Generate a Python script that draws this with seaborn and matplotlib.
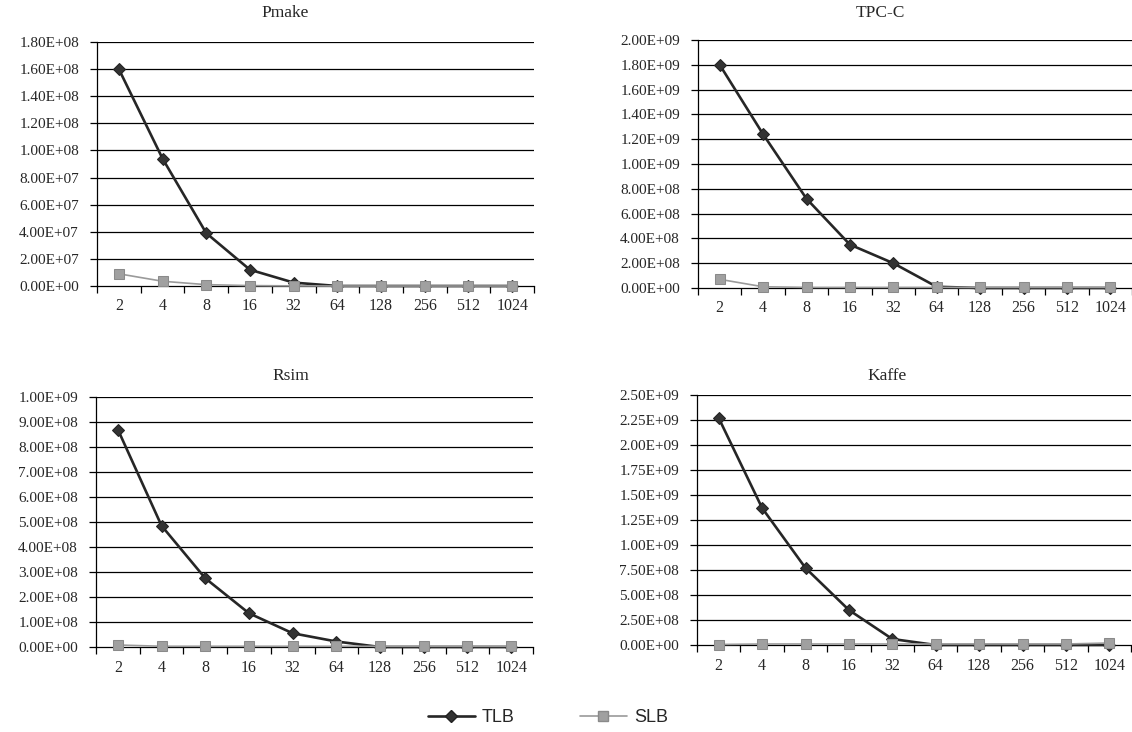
import numpy as np
import pandas as pd
import matplotlib
matplotlib.use("Agg")
import matplotlib.pyplot as plt
import seaborn as sns
from matplotlib.lines import Line2D

# ---------------- data ----------------
cache_sizes = ["2", "4", "8", "16", "32", "64", "128", "256", "512", "1024"]

pmake_tlb = [1.60e8, 9.4e7, 3.9e7, 1.2e7, 2.5e6, 0, 0, 0, 0, 0]
pmake_slb = [9.0e6, 3.5e6, 1.0e6, 3.0e5, 1.0e5, 0, 0, 0, 0, 0]

tpcc_tlb = [1.80e9, 1.24e9, 7.2e8, 3.5e8, 2.0e8, 1.0e7, 0, 0, 0, 0]
tpcc_slb = [7.0e7, 1.0e7, 5.0e6, 5.0e6, 5.0e6, 5.0e6, 5.0e6, 5.0e6, 5.0e6, 5.0e6]

rsim_tlb = [8.7e8, 4.85e8, 2.75e8, 1.35e8, 5.5e7, 2.2e7, 0, 0, 0, 0]
rsim_slb = [8.0e6, 3.0e6, 3.0e6, 3.0e6, 3.0e6, 3.0e6, 3.0e6, 3.0e6, 3.0e6, 3.0e6]

kaffe_tlb = [2.27e9, 1.37e9, 7.7e8, 3.5e8, 6.0e7, 0, 0, 0, 0, 0]
kaffe_slb = [5.0e6, 1.0e7, 1.0e7, 1.0e7, 1.0e7, 1.0e7, 1.0e7, 1.0e7, 1.0e7, 2.0e7]

titles = ["Pmake", "TPC-C", "Rsim", "Kaffe"]
y_max = [1.8e8, 2.0e9, 1.0e9, 2.5e9]
y_step = [2.0e7, 2.0e8, 1.0e8, 2.5e8]
series_names = ["TLB", "SLB"]

# ---------------- style ----------------
sns.set_theme(style="white")
plt.rcParams["font.family"] = ["Liberation Serif", "DejaVu Serif"]

TLB_COLOR = "#262626"
SLB_COLOR = "#9a9a9a"

fig = plt.figure(figsize=(11.32, 7.32), dpi=100)

W = 437 / 1132
WR = 434 / 1132
positions = [
    (97 / 1132, 1 - 286 / 732, W, (286 - 42) / 732),
    (698 / 1132, 1 - 288 / 732, WR, (288 - 40) / 732),
    (96 / 1132, 1 - 647 / 732, W, (647 - 397) / 732),
    (697 / 1132, 1 - 645 / 732, WR, (645 - 395) / 732),
]
title_pos = [(285, 13), (880, 13), (291, 376), (887, 376)]

data_sets = [
    (pmake_tlb, pmake_slb),
    (tpcc_tlb, tpcc_slb),
    (rsim_tlb, rsim_slb),
    (kaffe_tlb, kaffe_slb),
]

x_idx = np.arange(len(cache_sizes))

TLB_MS = 6
SLB_MS = 7.5

for i, (tlb, slb) in enumerate(data_sets):
    ax = fig.add_axes(positions[i])
    df = pd.DataFrame({"x": x_idx, "TLB": tlb, "SLB": slb})

    # grid lines
    ticks = np.arange(0, y_max[i] + y_step[i] / 2, y_step[i])
    for t in ticks[1:]:
        ax.axhline(t, color="black", lw=0.9, zorder=1)

    sns.lineplot(data=df, x="x", y="TLB", ax=ax, color=TLB_COLOR, lw=1.9,
                 marker="D", markersize=TLB_MS, markerfacecolor="#333333",
                 markeredgecolor="#222222", zorder=3, clip_on=False)
    sns.lineplot(data=df, x="x", y="SLB", ax=ax, color=SLB_COLOR, lw=1.2,
                 marker="s", markersize=SLB_MS, markerfacecolor="#a0a0a0",
                 markeredgecolor="#8a8a8a", zorder=4, clip_on=False)

    ax.set_xlim(-0.5, len(cache_sizes) - 0.5)
    ax.set_ylim(0, y_max[i])
    ax.set_yticks(ticks)
    ax.set_yticklabels([f"{v:.2E}" for v in ticks], fontsize=11)
    ax.set_xticks(x_idx)
    ax.set_xticklabels(cache_sizes, fontsize=11.5)
    ax.set_xticks(np.arange(-0.5, len(cache_sizes)), minor=True)
    ax.tick_params(axis="x", which="major", length=0, pad=9)
    ax.tick_params(axis="x", which="minor", length=5, width=0.9,
                   direction="out", color="black", bottom=True)
    ax.tick_params(axis="y", which="major", length=5, width=0.9,
                   direction="out", color="black", left=True, pad=8)
    ax.set_xlabel("")
    ax.set_ylabel("")
    for s in ["top", "right"]:
        ax.spines[s].set_visible(False)
    ax.spines["left"].set_color("black")
    ax.spines["left"].set_linewidth(0.9)
    ax.spines["bottom"].set_color("black")
    ax.spines["bottom"].set_linewidth(0.9)
    ax.grid(False)
    ax.set_facecolor("white")

    fig.text(title_pos[i][0] / 1132, 1 - title_pos[i][1] / 732, titles[i],
             ha="center", va="center", fontsize=12.5)

handles = [
    Line2D([], [], color=TLB_COLOR, lw=1.9, marker="D", markersize=TLB_MS,
           markerfacecolor="#333333", markeredgecolor="#222222"),
    Line2D([], [], color=SLB_COLOR, lw=1.2, marker="s", markersize=SLB_MS,
           markerfacecolor="#a0a0a0", markeredgecolor="#8a8a8a"),
]
leg = fig.legend(handles, series_names, loc="center", bbox_to_anchor=(548 / 1132, 1 - 718 / 732),
                 ncol=2, frameon=False, handlelength=2.6, handletextpad=0.4,
                 columnspacing=3.6,
                 prop={"family": "Liberation Sans", "size": 13})

fig.savefig("out.png", dpi=100, facecolor="white")
